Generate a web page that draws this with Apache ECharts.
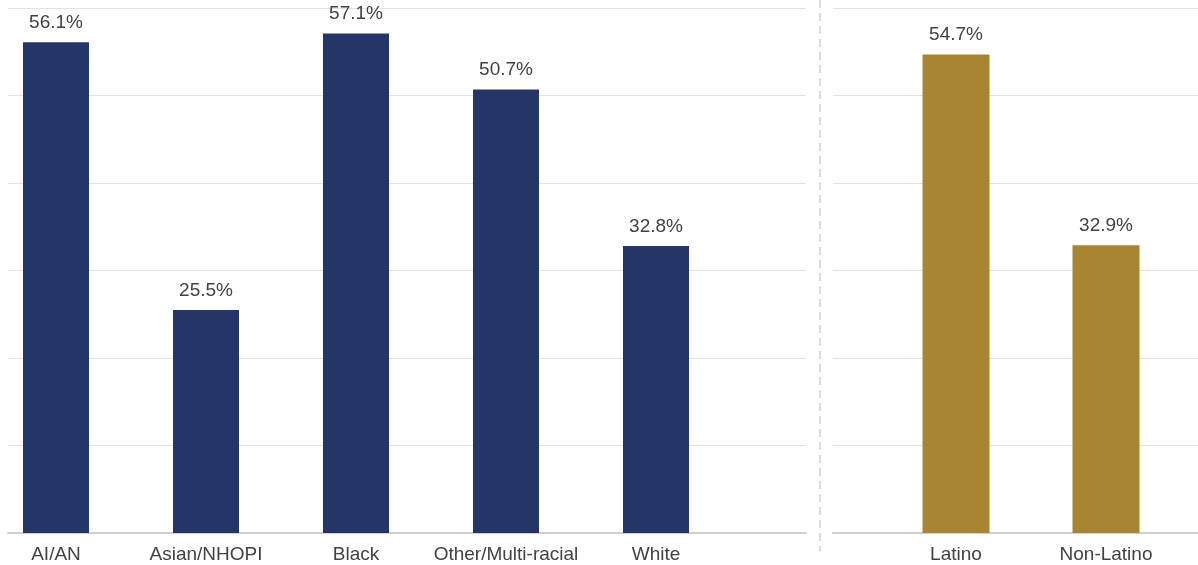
<!DOCTYPE html>
<html>
<head>
<meta charset="utf-8">
<script src="https://cdn.jsdelivr.net/npm/echarts@6/dist/echarts.min.js"></script>
<style>
  html, body { margin: 0; padding: 0; background: #fff; }
  #chart { width: 1198px; height: 565px; }
</style>
</head>
<body>
<div id="chart"></div>
<script>
// race groups (left panel)
var raceNames = ['AI/AN', 'Asian/NHOPI', 'Black', 'Other/Multi-racial', 'White'];
var raceValues = [56.1, 25.5, 57.1, 50.7, 32.8];
// ethnicity groups (right panel)
var ethNames = ['Latino', 'Non-Latino'];
var ethValues = [54.7, 32.9];

var navy = '#243665';
var gold = '#a88530';
var textColor = '#424242';
var font = '"Liberation Sans", Arial, sans-serif';

var chartDom = document.getElementById('chart');
var myChart = echarts.init(chartDom);

// y axis shared settings, 0-60 with lines every 10
function yAx(gridIndex, showLines) {
    return {
        type: 'value', gridIndex: gridIndex, min: 0, max: 60, interval: 10,
        axisLabel: { show: false }, axisTick: { show: false }, axisLine: { show: false },
        splitLine: { show: showLines, lineStyle: { color: '#e2e2e2', width: 1 } }
    };
}

var labelStyle = {
    show: true, position: 'top', distance: 10,
    color: textColor, fontSize: 19, fontFamily: font,
    formatter: function (p) { return p.value.toFixed(1) + '%'; }
};

function catAx(gridIndex, names) {
    return {
        type: 'category', gridIndex: gridIndex, data: names, boundaryGap: false,
        axisLine: { show: false }, axisTick: { show: false }, splitLine: { show: false },
        axisLabel: { color: textColor, fontSize: 19, fontFamily: font, margin: 12, interval: 0 }
    };
}

var option = {
    animation: false,
    grid: [
        // backgrounds (gridlines + baseline)
        { left: 8, top: 8, width: 798, height: 525 },
        { left: 833, top: 8, width: 365, height: 525 },
        // bars: first/last category sit on the grid edges
        { left: 56, top: 8, width: 600, height: 525 },
        { left: 956, top: 8, width: 150, height: 525 }
    ],
    xAxis: [
        { type: 'value', gridIndex: 0, min: 0, max: 1, axisLabel: { show: false }, axisTick: { show: false },
          splitLine: { show: false }, axisLine: { show: true, lineStyle: { color: '#cfcfcf', width: 2 } } },
        { type: 'value', gridIndex: 1, min: 0, max: 1, axisLabel: { show: false }, axisTick: { show: false },
          splitLine: { show: false }, axisLine: { show: true, lineStyle: { color: '#cfcfcf', width: 2 } } },
        catAx(2, raceNames),
        catAx(3, ethNames)
    ],
    yAxis: [yAx(0, true), yAx(1, true), yAx(2, false), yAx(3, false)],
    series: [
        {
            name: 'Race', type: 'bar', xAxisIndex: 2, yAxisIndex: 2, clip: false,
            data: raceValues, barWidth: 66,
            itemStyle: { color: navy },
            label: labelStyle
        },
        {
            name: 'Ethnicity', type: 'bar', xAxisIndex: 3, yAxisIndex: 3, clip: false,
            data: ethValues, barWidth: 67,
            itemStyle: { color: gold },
            label: labelStyle
        }
    ],
    graphic: [
        {
            type: 'line',
            shape: { x1: 820, y1: 0, x2: 820, y2: 551 },
            style: { stroke: '#dcdcdc', lineWidth: 2, lineDash: [8, 5] }
        }
    ]
};

myChart.setOption(option);
</script>
</body>
</html>
